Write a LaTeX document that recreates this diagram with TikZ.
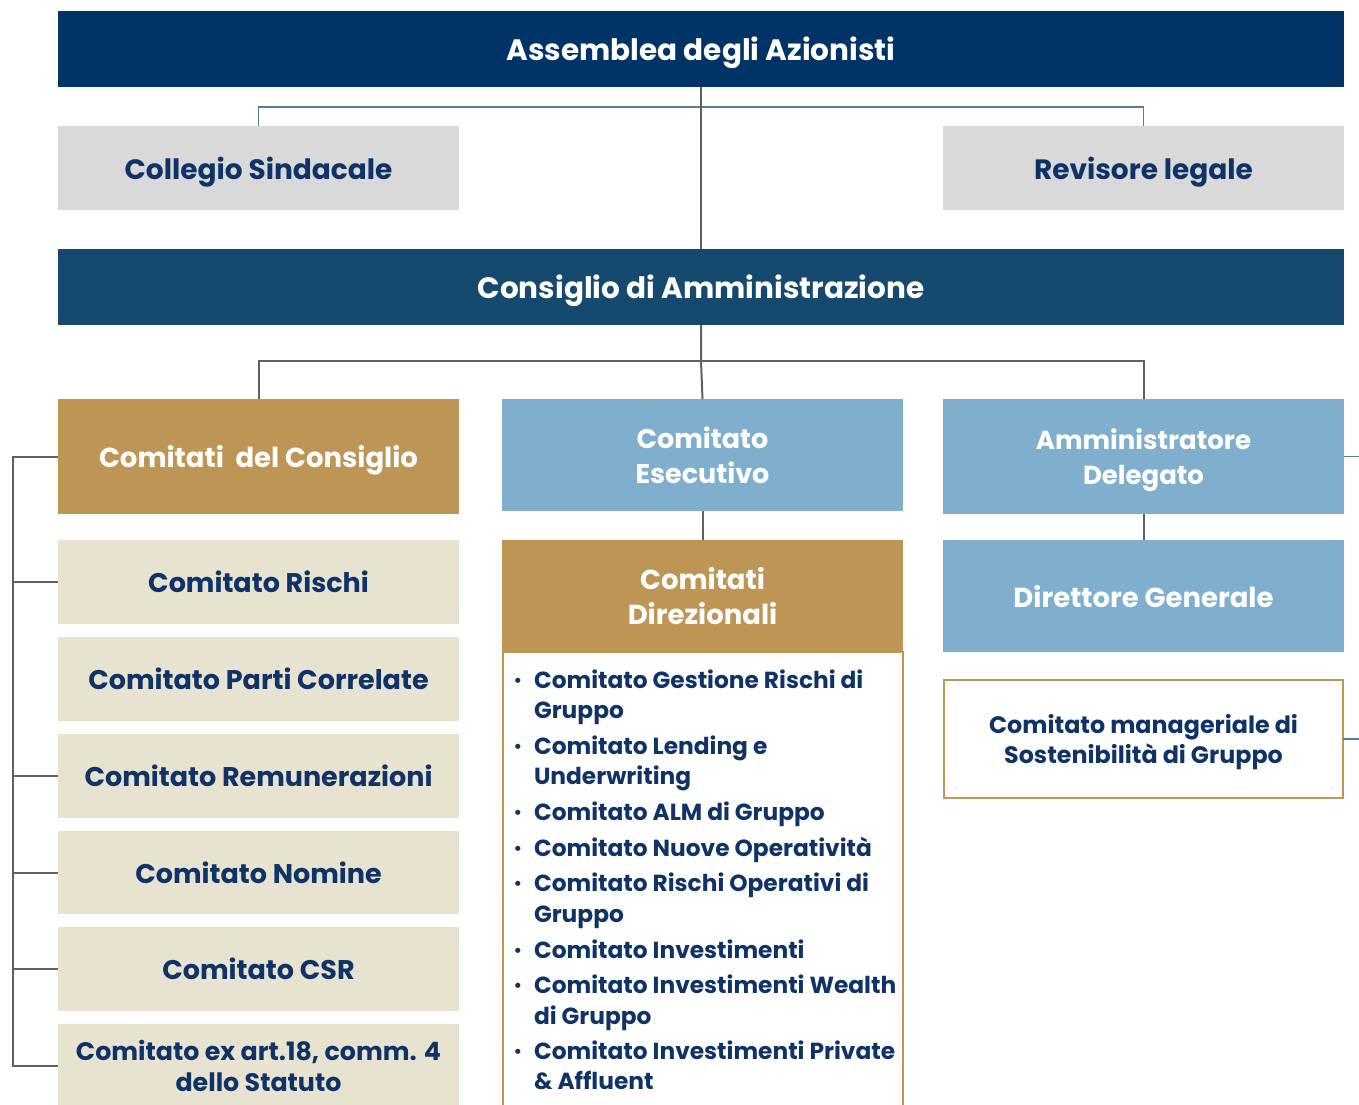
\documentclass[tikz,border=0pt]{standalone}
\usepackage{fontspec}
\setmainfont{Poppins}
\definecolor{navy}{HTML}{003366}
\definecolor{cdablue}{HTML}{154A6E}
\definecolor{txtnavy}{HTML}{0F3366}
\definecolor{gold}{HTML}{BD9656}
\definecolor{lblue}{HTML}{80AFCD}
\definecolor{lgray}{HTML}{D9D9D9}
\definecolor{beige}{HTML}{E8E2D0}
\definecolor{conngray}{HTML}{606060}
\definecolor{connblue}{HTML}{5A7A9A}
\begin{document}
\begin{tikzpicture}[x=1pt,y=-1pt,
  base/.style={inner sep=0pt, outer sep=0pt, align=center, text depth=0pt, font=\bfseries},
  bandbox/.style={base, minimum width=1286pt, minimum height=76pt, text=white, font=\bfseries\fontsize{29.5}{34}\selectfont},
  graybox/.style={base, fill=lgray, minimum width=401pt, minimum height=84pt, text=txtnavy, font=\bfseries\fontsize{28}{32}\selectfont},
  goldbox/.style={base, fill=gold, minimum width=401pt, text=white, font=\bfseries\fontsize{27.5}{35}\selectfont},
  bluebox/.style={base, fill=lblue, minimum width=401pt, text=white, font=\bfseries\fontsize{27}{35}\selectfont},
  beigebox/.style={base, fill=beige, minimum width=401pt, minimum height=84pt, text=txtnavy, font=\bfseries\fontsize{27}{31}\selectfont},
  listline/.style={inner sep=0pt, outer sep=0pt, anchor=base west, text=txtnavy, font=\bfseries\fontsize{23.3}{27}\selectfont},
  bul/.style={inner sep=0pt, outer sep=0pt, anchor=base, text=txtnavy, font=\bfseries\fontsize{17}{20}\selectfont},
  gconn/.style={draw=conngray, line width=2pt},
  bconn/.style={draw=connblue, line width=1.2pt}
]
\useasboundingbox (0,0) rectangle (1359,1104);

% top bands
\node[bandbox, fill=navy] (assem) at (701,49) {Assemblea degli Azionisti};
\node[graybox] (collegio) at (258.5,168) {Collegio Sindacale};
\node[graybox] (revisore) at (1143.5,168) {Revisore legale};
\node[bandbox, fill=cdablue] (cda) at (701,287) {Consiglio di Amministrazione};

% third row
\node[goldbox, minimum height=115pt] (comcons) at (258.5,456.5) {Comitati~ del Consiglio};
\node[bluebox, minimum height=112pt] (esec) at (702.5,455) {Comitato\\Esecutivo};
\node[bluebox, font=\bfseries\fontsize{26}{35}\selectfont, minimum height=115pt] (ad) at (1143.5,456.5) {Amministratore\\Delegato};

% fourth row
\node[goldbox, minimum height=112pt] (cdir) at (702.5,596) {Comitati\\Direzionali};
\node[bluebox, font=\bfseries\fontsize{27.5}{35}\selectfont, minimum height=112pt] (dg) at (1143.5,596) {Direttore Generale};
\node[base, draw=gold, line width=2.5pt, fill=white, minimum width=399pt, minimum height=118pt, text=txtnavy,
      font=\bfseries\fontsize{23.8}{30}\selectfont] (cms) at (1143.5,739) {Comitato manageriale di\\Sostenibilità di Gruppo};

% left column
\node[beigebox] (rischi) at (258.5,582) {Comitato Rischi};
\node[beigebox] (parti) at (258.5,679) {Comitato Parti Correlate};
\node[beigebox] (remu) at (258.5,776) {Comitato Remunerazioni};
\node[beigebox, minimum height=83pt] (nomine) at (258.5,872.5) {Comitato Nomine};
\node[beigebox] (csr) at (258.5,969) {Comitato CSR};
\node[beigebox, font=\bfseries\fontsize{25.3}{31}\selectfont] (exart) at (258.5,1066) {Comitato ex art.18, comm. 4\\dello Statuto};

% list box
\node[inner sep=0pt, outer sep=0pt, draw=gold, line width=2pt, minimum width=400pt, minimum height=470pt] (listbox) at (702.5,887) {};

\node[bul] (b1) at (518,686) {•};
\node[listline] (l1) at (534,688) {Comitato Gestione Rischi di};
\node[listline] (l2) at (534,718) {Gruppo};
\node[bul] (b2) at (518,752) {•};
\node[listline] (l3) at (534,754) {Comitato Lending e};
\node[listline] (l4) at (534,784) {Underwriting};
\node[bul] (b3) at (518,818) {•};
\node[listline] (l5) at (534,820) {Comitato ALM di Gruppo};
\node[bul] (b4) at (518,854) {•};
\node[listline] (l6) at (534,856) {Comitato Nuove Operatività};
\node[bul] (b5) at (518,889) {•};
\node[listline] (l7) at (534,891) {Comitato Rischi Operativi di};
\node[listline] (l8) at (534,922) {Gruppo};
\node[bul] (b6) at (518,956) {•};
\node[listline] (l9) at (534,958) {Comitato Investimenti};
\node[bul] (b7) at (518,991) {•};
\node[listline] (l10) at (534,993) {Comitato Investimenti Wealth};
\node[listline] (l11) at (534,1024) {di Gruppo};
\node[bul] (b8) at (518,1057) {•};
\node[listline] (l12) at (534,1059) {Comitato Investimenti Private};
\node[listline] (l13) at (534,1089) {\& Affluent};

% connectors top
\coordinate (tb) at (701,107);
\draw[bconn] (collegio.north) -- (collegio.north |- tb) -- (revisore.north |- tb) -- (revisore.north);
\draw[gconn] (assem.south) -- (cda.north);

% connectors under CdA
\coordinate (mb) at (701,361);
\draw[gconn] (comcons.north) -- (comcons.north |- mb) -- (ad.north |- mb) -- (ad.north);
\draw[gconn] (cda.south) -- (mb) -- (esec.north);
\draw[gconn] (esec.south) -- (cdir.north);
\draw[gconn] (ad.south) -- (dg.north);

% left bracket
\coordinate (lb) at (13,456.5);
\draw[gconn] (comcons.west) -- (lb) -- (lb |- exart.west) -- (exart.west);
\draw[gconn] (lb |- rischi.west) -- (rischi.west);
\draw[gconn] (lb |- remu.west) -- (remu.west);
\draw[gconn] (lb |- nomine.west) -- (nomine.west);
\draw[gconn] (lb |- csr.west) -- (csr.west);

% right stubs
\coordinate (r1) at (1359,456.5);
\coordinate (r2) at (1359,739);
\draw[bconn] (ad.east) -- (r1);
\draw[bconn] (cms.east) -- (r2);
\end{tikzpicture}
\end{document}
